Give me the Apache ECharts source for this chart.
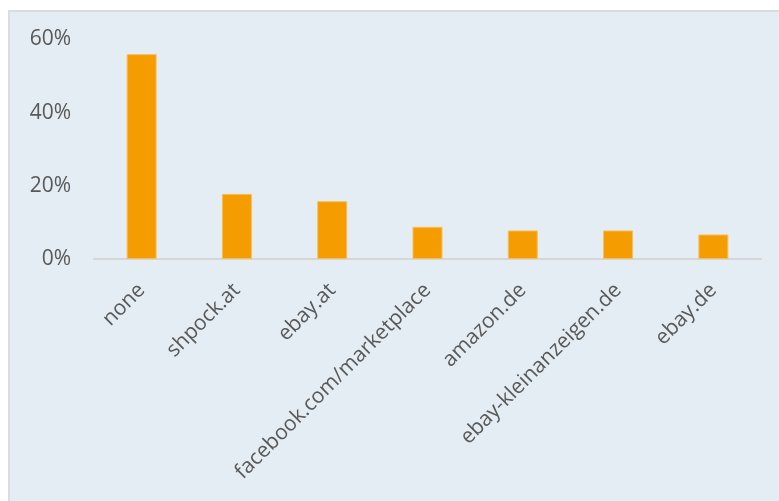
<!DOCTYPE html>
<html>
<head>
<meta charset="utf-8">
<script src="https://cdn.jsdelivr.net/npm/echarts@6/dist/echarts.min.js"></script>
<style>
  html, body { margin: 0; padding: 0; background: #ffffff; }
  #panel { position: absolute; left: 8px; top: 10px; width: 780px; height: 500px;
           background: #e4edf3; border: 2px solid #dcdcdc; box-sizing: border-box; }
  #chart { position: absolute; left: 0; top: 0; width: 779px; height: 501px; }
</style>
</head>
<body>
<div id="panel"></div>
<div id="chart"></div>
<script>
const categories = ["none", "shpock.at", "ebay.at", "facebook.com/marketplace", "amazon.de", "ebay-kleinanzeigen.de", "ebay.de"];
const shares = [56, 17.8, 15.8, 8.8, 7.8, 7.8, 6.7];
const yTicks = [0, 20, 40, 60];

const chart = echarts.init(document.getElementById('chart'), null, { renderer: 'canvas' });
chart.setOption({
  backgroundColor: 'transparent',
  animation: false,
  grid: { left: 94, right: 18, top: 39.5, bottom: 242, containLabel: false },
  xAxis: {
    type: 'category',
    data: categories,
    axisLine: { show: true, lineStyle: { color: '#d6d6d6', width: 2 } },
    axisTick: { show: false },
    axisLabel: {
      rotate: 45, interval: 0, margin: 28,
      color: '#595959', fontFamily: 'Open Sans', fontSize: 21
    }
  },
  yAxis: {
    type: 'value',
    min: yTicks[0], max: yTicks[yTicks.length - 1], interval: 20,
    splitLine: { show: false },
    axisLine: { show: false },
    axisTick: { show: false },
    axisLabel: {
      margin: 23, color: '#595959', fontFamily: 'Open Sans', fontSize: 21,
      formatter: v => v + '%'
    }
  },
  series: [{
    type: 'bar',
    data: shares,
    barWidth: 30,
    itemStyle: { color: '#f59c00', borderColor: '#f8be5c', borderWidth: 1 }
  }]
});
</script>
</body>
</html>
